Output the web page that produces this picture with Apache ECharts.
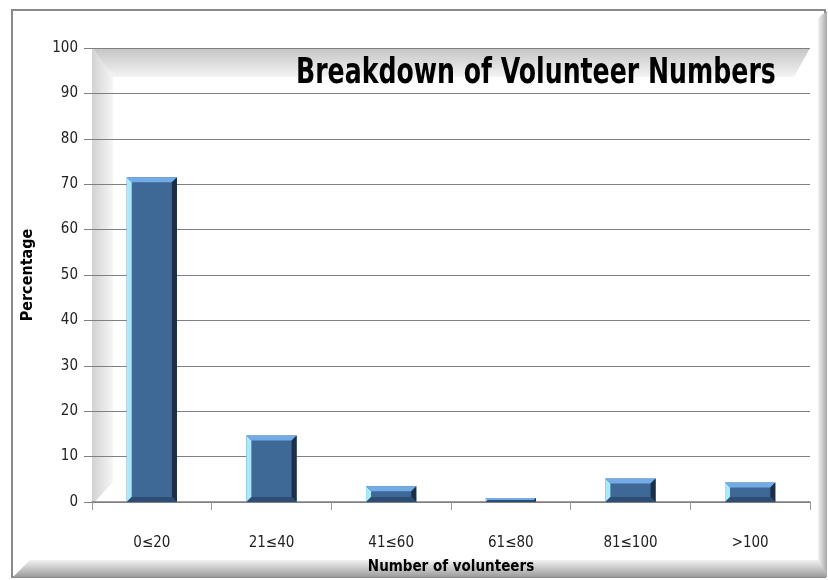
<!DOCTYPE html>
<html>
<head>
<meta charset="utf-8">
<script src="https://cdn.jsdelivr.net/npm/echarts@6/dist/echarts.min.js"></script>
<style>
  html, body { margin: 0; padding: 0; background: #fff; }
  #chart { width: 828px; height: 580px; }
</style>
</head>
<body>
<div id="chart"></div>
<script>
var categories = ['0≤20', '21≤40', '41≤60', '61≤80', '81≤100', '>100']
var percentages = [71.55, 14.66, 3.45, 0.86, 5.17, 4.31]
var chartTitle = 'Breakdown of Volunteer Numbers'
var narrowFont = '"Liberation Sans Narrow", "DejaVu Sans Condensed", sans-serif'

var myChart = echarts.init(document.getElementById('chart'))

// bevelled bar, drawn from the axis scale
function renderBar(params, api) {
  var base = api.coord([api.value(0), 0])
  var top = api.coord([api.value(0), api.value(1)])
  var w = api.size([1, 0])[0] * 0.42
  var x0 = base[0] - w / 2
  var x1 = base[0] + w / 2
  var y0 = top[1]
  var y1 = base[1]
  var b = Math.min(5, (y1 - y0) / 2)
  return {
    type: 'group',
    children: [
      { type: 'rect', shape: { x: x0, y: y0, width: w, height: y1 - y0 }, style: { fill: '#3e6896' } },
      { type: 'polygon', shape: { points: [[x0, y0], [x0 + b, y0 + b], [x0 + b, y1 - b], [x0, y1]] }, style: { fill: '#a9e9fb' } },
      { type: 'polygon', shape: { points: [[x0, y0], [x1, y0], [x1 - b, y0 + b], [x0 + b, y0 + b]] }, style: { fill: '#74aae6' } },
      { type: 'polygon', shape: { points: [[x1, y0], [x1, y1], [x1 - b, y1 - b], [x1 - b, y0 + b]] }, style: { fill: '#1d2f47' } },
      { type: 'polygon', shape: { points: [[x0, y1], [x1, y1], [x1 - b, y1 - b], [x0 + b, y1 - b]] }, style: { fill: '#2e4d75' } }
    ]
  }
}

var option = {
  backgroundColor: '#fff',
  animation: false,
  graphic: [
    // outer frame
    {
      type: 'rect',
      shape: { x: 12, y: 10, width: 813, height: 567 },
      style: { fill: 'none', stroke: '#8a8a8a', lineWidth: 2 },
      z: -10
    },
    // right edge band
    {
      type: 'polygon',
      shape: { points: [[818, 18], [827, 11], [827, 577], [818, 563]] },
      style: {
        fill: new echarts.graphic.LinearGradient(0, 0, 1, 0, [
          { offset: 0, color: '#f2f2f2' },
          { offset: 1, color: '#a8a8a8' }
        ])
      },
      z: -6
    },
    // bottom band
    {
      type: 'polygon',
      shape: { points: [[13, 577], [30, 560], [818, 560], [827, 577]] },
      style: {
        fill: new echarts.graphic.LinearGradient(0, 0, 0, 1, [
          { offset: 0, color: '#f2f2f2' },
          { offset: 1, color: '#9c9c9c' }
        ])
      },
      z: -6
    },
    // plot area top bevel
    {
      type: 'polygon',
      shape: { points: [[92, 48], [810, 48], [794, 77], [113, 77]] },
      style: {
        fill: new echarts.graphic.LinearGradient(0, 0, 0, 1, [
          { offset: 0, color: '#c4c4c4' },
          { offset: 1, color: '#f4f4f4' }
        ])
      },
      z: -4
    },
    // plot area left bevel
    {
      type: 'polygon',
      shape: { points: [[92, 48], [113, 77], [113, 482], [92, 505]] },
      style: {
        fill: new echarts.graphic.LinearGradient(0, 0, 1, 0, [
          { offset: 0, color: '#d2d2d2' },
          { offset: 1, color: '#f6f6f6' }
        ])
      },
      z: -4
    },
    {
      type: 'text',
      x: 296,
      y: 56,
      scaleX: 0.8,
      style: {
        text: chartTitle,
        font: 'bold 35px ' + narrowFont,
        fill: '#000'
      },
      z: 10
    }
  ],
  grid: {
    left: 92,
    right: 18,
    top: 48,
    bottom: 75,
    containLabel: false
  },
  xAxis: {
    type: 'category',
    data: categories,
    name: 'Number of volunteers',
    nameLocation: 'middle',
    nameGap: 58,
    nameTextStyle: { fontFamily: narrowFont, fontWeight: 'bold', fontSize: 15, color: '#000' },
    axisLine: { lineStyle: { color: '#808080', width: 1.5 } },
    axisTick: { show: true, length: 8, lineStyle: { color: '#999' } },
    axisLabel: { margin: 34, fontFamily: narrowFont, fontSize: 15, color: '#222' }
  },
  yAxis: {
    type: 'value',
    min: 0,
    max: 100,
    interval: 10,
    name: 'Percentage',
    nameLocation: 'middle',
    nameGap: 56,
    nameTextStyle: { fontFamily: narrowFont, fontWeight: 'bold', fontSize: 16, color: '#000' },
    axisLine: { show: false },
    axisTick: { show: true, length: 8, lineStyle: { color: '#808080' } },
    axisLabel: { margin: 14, fontFamily: narrowFont, fontSize: 15, color: '#222' },
    splitLine: { lineStyle: { color: '#808080', width: 1 } }
  },
  series: [
    {
      type: 'custom',
      renderItem: renderBar,
      encode: { x: 0, y: 1 },
      data: percentages.map(function (v, i) { return [i, v] }),
      label: {
        show: true,
        position: 'top',
        distance: 12,
        fontFamily: narrowFont,
        fontSize: 15,
        color: '#222',
        formatter: function (p) { return p.value[1].toFixed(2) }
      },
      z: 3
    }
  ]
}

myChart.setOption(option)
window.onresize = function () { myChart && myChart.resize() }
</script>
</body>
</html>
